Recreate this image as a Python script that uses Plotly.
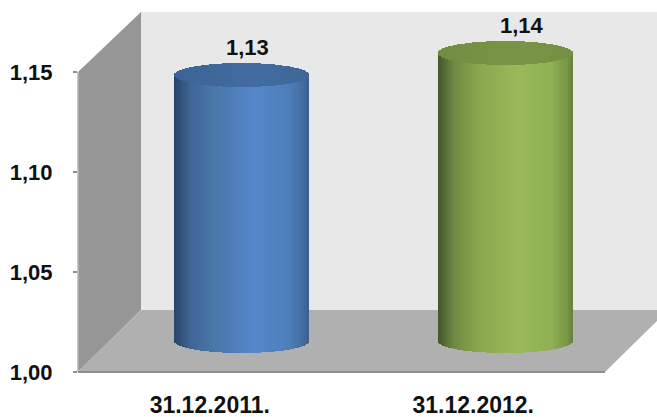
import numpy as np
import plotly.graph_objects as go

categories = ["31.12.2011.", "31.12.2012."]
values = [1.133, 1.144]
y_ticks = [1.00, 1.05, 1.10, 1.15]

W, H = 657, 417
FONT = "Liberation Sans, Arial, sans-serif"
TXT = "#111111"
FS = 22
FSX = 23

# pixel frame of the front plane
LEFT, RIGHT, BOTTOM, TOP = 78, 605, 372, 12
DX, DY = 32, 31  # depth shift of the columns
xr = [-0.5, 1.5]
yr = [1.0, 1.18]
px_x = (RIGHT - LEFT) / (xr[1] - xr[0])
px_y = (BOTTOM - TOP) / (yr[1] - yr[0])
bar_w = 134 / px_x
ry = 12 / px_y

shade_stops = [0, .04, .12, .30, .60, .85, .96, 1]
blue_stops = ["#2a4568", "#304f78", "#3f6695", "#4a78ab", "#5588cc", "#4f7fba", "#426c9f", "#3a5f8f"]
green_stops = ["#445529", "#526734", "#6f8a43", "#8aa84f", "#9bbb59", "#8fb053", "#7a9648", "#66803c"]
cap_colors = [("#3a5e90", "#436ca0"), ("#6e8840", "#7a9546")]


def h2r(c):
    return np.array([int(c[i:i + 2], 16) for i in (1, 3, 5)], float)


def shade(stops, t):
    arr = np.array([h2r(c) for c in stops])
    return "rgb(%d,%d,%d)" % tuple(np.interp(t, shade_stops, arr[:, k]) for k in range(3))


def mix(a, b, t):
    m = h2r(a) * (1 - t) + h2r(b) * t
    return "rgb(%d,%d,%d)" % tuple(m)


def px(x):
    return x / W


def py(y):
    return 1 - y / H


fig = go.Figure()

# carries the front-plane category and value axes
fig.add_trace(go.Scatter(x=[0, 1], y=values, mode="none", hoverinfo="skip", showlegend=False))

# the columns themselves
fig.add_trace(go.Bar(x=[0, 1], y=[v - 1 for v in values], base=1.0, width=bar_w * 0.9,
                     marker=dict(color=["#4f7fba", "#9bbb59"], line_width=0),
                     xaxis="x2", yaxis="y2", hoverinfo="skip", showlegend=False))

# cylinder shading: narrow slices of each column, with curved base, then the elliptical top
N = 90
sw = bar_w / N
for i, (v, stops) in enumerate(zip(values, [blue_stops, green_stops])):
    t = (np.arange(N) + .5) / N
    u = 2 * t - 1
    arc = ry * np.sqrt(1 - u ** 2)
    xs = i + u * bar_w / 2
    fig.add_trace(go.Bar(x=xs, y=v - 1 + arc, base=1 - arc, width=sw * 1.35,
                         marker=dict(color=[shade(stops, a) for a in t], line_width=0),
                         xaxis="x2", yaxis="y2", hoverinfo="skip", showlegend=False))
    fig.add_trace(go.Bar(x=xs, y=2 * arc, base=v - arc, width=sw * 1.35,
                         marker=dict(color=[mix(*cap_colors[i], 1 - abs(a - .6)) for a in t], line_width=0),
                         xaxis="x2", yaxis="y2", hoverinfo="skip", showlegend=False))


def poly(pts, fill, line=None):
    path = "M " + " L ".join(f"{px(a):.5f} {py(b):.5f}" for a, b in pts) + " Z"
    return dict(type="path", path=path, xref="paper", yref="paper", layer="below",
                fillcolor=fill, line=dict(width=1 if line else 0, color=line or fill))


shapes = [
    poly([(141, 12), (657, 12), (657, 310), (141, 310)], "#e8e8e8"),
    poly([(78, 72), (141, 12), (141, 310), (78, 372)], "#969696"),
    poly([(78, 372), (141, 310), (657, 310), (657, 321), (605, 372)], "#b0b0b0"),
    dict(type="line", xref="paper", yref="paper", layer="below", x0=px(78), x1=px(78), y0=py(72), y1=py(372),
         line=dict(color="#b4b4b4", width=1.5)),
    dict(type="line", xref="paper", yref="paper", layer="below", x0=px(78), x1=px(605), y0=py(372), y1=py(372),
         line=dict(color="#8e8e8e", width=2)),
]

annotations = [
    dict(x=i, y=v + ry, xref="x2", yref="y2", text=f"{v:.2f}".replace(".", ","), showarrow=False,
         xanchor="center", yanchor="bottom", xshift=s, yshift=1,
         font=dict(family=FONT, size=FS, color=TXT, weight="bold"))
    for i, (v, s) in enumerate(zip(values, [6, 17]))
]

fig.update_layout(
    width=W, height=H, autosize=False,
    margin=dict(l=0, r=0, t=0, b=0),
    paper_bgcolor="white", plot_bgcolor="rgba(0,0,0,0)",
    barmode="overlay", bargap=0, separators=",.",
    showlegend=False, shapes=shapes, annotations=annotations,
    xaxis=dict(domain=[px(LEFT), px(RIGHT)], range=xr, tickmode="array", tickvals=[0, 1], ticktext=categories,
               ticks="", showgrid=False, zeroline=False, showline=False, ticklabelstandoff=17,
               tickfont=dict(family=FONT, size=FSX, color=TXT, weight="bold"), automargin=False),
    yaxis=dict(domain=[py(BOTTOM), py(TOP)], range=yr, tickmode="array", tickvals=y_ticks, tickformat=".2f",
               ticks="outside", ticklen=4, tickwidth=1.5, tickcolor="#8e8e8e", showgrid=False, zeroline=False,
               showline=False, ticklabelstandoff=16,
               tickfont=dict(family=FONT, size=FS, color=TXT, weight="bold"), automargin=False),
    xaxis2=dict(overlaying="x", domain=[px(LEFT), px(RIGHT)], anchor="y2",
                range=[xr[0] - DX / px_x, xr[1] - DX / px_x], visible=False),
    yaxis2=dict(overlaying="y", domain=[py(BOTTOM), py(TOP)], anchor="x2",
                range=[yr[0] - DY / px_y, yr[1] - DY / px_y], visible=False),
)

fig.write_html("out.html", post_script="document.body.style.margin='0';", config=dict(displayModeBar=False))
